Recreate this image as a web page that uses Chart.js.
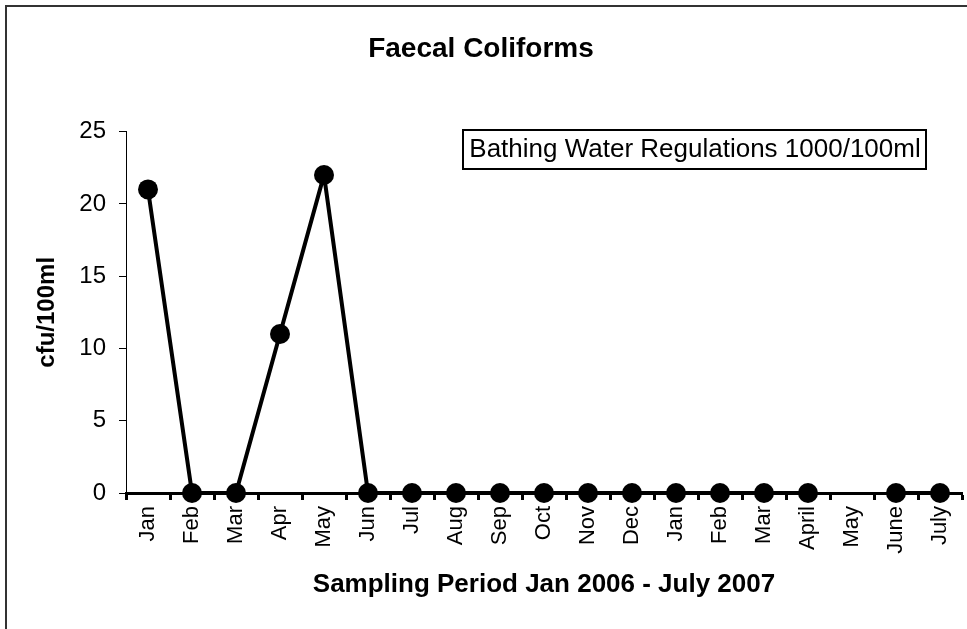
<!DOCTYPE html>
<html>
<head>
<meta charset="utf-8">
<script src="https://cdn.jsdelivr.net/npm/chart.js@4/dist/chart.umd.min.js"></script>
<style>
  html, body { margin: 0; padding: 0; background: #fff; }
  #wrap { width: 967px; height: 629px; position: relative; }
</style>
</head>
<body>
<div id="wrap"><canvas id="myChart"></canvas></div>
<script>
// sampling months Jan 2006 - July 2007
const months = ['Jan', 'Feb', 'Mar', 'Apr', 'May', 'Jun', 'Jul', 'Aug', 'Sep', 'Oct', 'Nov', 'Dec',
                'Jan', 'Feb', 'Mar', 'April', 'May', 'June', 'July'];
// cfu/100ml, May 2007 not sampled
const faecal = [21, 0, 0, 11, 22, 0, 0, 0, 0, 0, 0, 0, 0, 0, 0, 0, null, 0, 0];
const yTicks = [0, 5, 10, 15, 20, 25];
const noteText = 'Bathing Water Regulations 1000/100ml';

const FONT = "'Liberation Sans', Arial, sans-serif";

// outer frame + text box
const extras = {
  id: 'extras',
  afterDraw(chart) {
    const c = chart.ctx;
    c.save();
    c.strokeStyle = '#333';
    c.lineWidth = 2;
    c.beginPath();
    c.moveTo(6, 629);
    c.lineTo(6, 6);
    c.lineTo(967, 6);
    c.stroke();

    c.strokeStyle = '#000';
    c.lineWidth = 2;
    c.strokeRect(463, 130, 463, 39);
    c.fillStyle = '#000';
    c.font = '26px ' + FONT;
    c.textAlign = 'center';
    c.textBaseline = 'middle';
    c.fillText(noteText, 695, 150);
    c.restore();
  }
};

const ctx = document.getElementById('myChart');

var chart = new Chart(ctx, {
  type: 'line',
  data: {
    labels: months,
    datasets: [{
      label: 'Faecal Coliforms',
      data: faecal,
      borderColor: '#000',
      backgroundColor: '#000',
      borderWidth: 4,
      pointRadius: 10,
      pointHoverRadius: 10,
      pointBackgroundColor: '#000',
      pointBorderWidth: 0,
      spanGaps: false,
      tension: 0,
      fill: false,
      clip: false
    }]
  },
  options: {
    responsive: true,
    maintainAspectRatio: false,
    animation: false,
    layout: { autoPadding: false, padding: { left: 0, right: 5, top: 0, bottom: 0 } },
    plugins: {
      legend: { display: false },
      tooltip: { enabled: false },
      title: {
        display: true,
        text: 'Faecal Coliforms',
        color: '#000',
        font: { family: FONT, size: 28, weight: 'bold' },
        padding: { top: 32, bottom: 66 }
      }
    },
    scales: {
      x: {
        offset: true,
        grid: {
          offset: true,
          drawOnChartArea: false,
          tickLength: 7,
          tickWidth: 3,
          tickColor: '#000'
        },
        border: { color: '#000', width: 3 },
        ticks: {
          color: '#000',
          font: { family: FONT, size: 22 },
          minRotation: 90,
          maxRotation: 90,
          padding: 6,
          autoSkip: false
        },
        title: {
          display: true,
          text: 'Sampling Period Jan 2006 - July 2007',
          color: '#000',
          font: { family: FONT, size: 26, weight: 'bold' },
          padding: { top: 0, bottom: 29 }
        },
        afterFit(scale) {
          scale.height = 136;
          scale.paddingLeft = 0;
          scale.paddingRight = 0;
        }
      },
      y: {
        min: 0,
        max: 25,
        afterBuildTicks(scale) { scale.ticks = yTicks.map(v => ({ value: v })); },
        grid: {
          drawOnChartArea: false,
          tickLength: 7,
          tickWidth: 1,
          tickColor: '#000'
        },
        border: { color: '#000', width: 1 },
        ticks: {
          color: '#000',
          font: { family: FONT, size: 24 },
          padding: 13
        },
        title: {
          display: true,
          text: 'cfu/100ml',
          color: '#000',
          font: { family: FONT, size: 24, weight: 'bold' },
          padding: { top: 33, bottom: 0 }
        },
        afterFit(scale) { scale.width = 126; }
      }
    }
  },
  plugins: [extras]
});
</script>
</body>
</html>
